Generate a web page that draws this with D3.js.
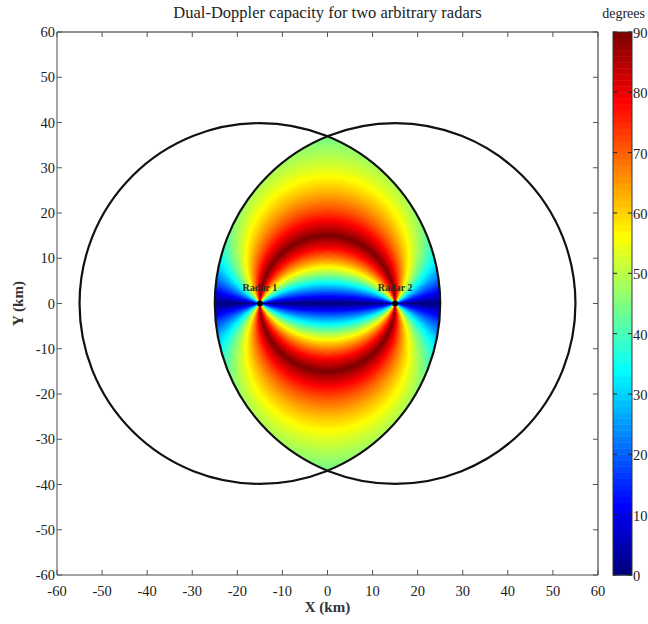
<!DOCTYPE html>
<html>
<head>
<meta charset="utf-8">
<script src="https://cdn.jsdelivr.net/npm/d3@7"></script>
<style>
  html, body { margin: 0; padding: 0; background: #fff; }
  svg text { font-family: "Liberation Serif", "DejaVu Serif", serif; fill: #222; }
</style>
</head>
<body>
<svg id="chart" width="648" height="624"></svg>
<script>
// Radar sites (km) and their maximum useful range (km)
const radarNames = ["Radar 1", "Radar 2"];
const radarX = [-15, 15];
const radarY = [0, 0];
const radarRange = [40, 40];

// Axis ticks
const xTicks = [-60, -50, -40, -30, -20, -10, 0, 10, 20, 30, 40, 50, 60];
const yTicks = [-60, -50, -40, -30, -20, -10, 0, 10, 20, 30, 40, 50, 60];
const colorTicks = [0, 10, 20, 30, 40, 50, 60, 70, 80, 90];
const colorDomain = [0, 90];
const colorLevels = 90;

const plot = { left: 57, right: 598, top: 32, bottom: 575 };
const cbar = { left: 613, right: 632, top: 32, bottom: 575 };

const svg = d3.select("#chart");

const x = d3.scaleLinear().domain([-60, 60]).range([plot.left, plot.right]);
const y = d3.scaleLinear().domain([-60, 60]).range([plot.bottom, plot.top]);

// MATLAB-style jet colormap
function jet(t) {
  const c = v => Math.max(0, Math.min(1, v));
  const r = c(1.5 - Math.abs(4 * t - 3));
  const g = c(1.5 - Math.abs(4 * t - 2));
  const b = c(1.5 - Math.abs(4 * t - 1));
  return [Math.round(r * 255), Math.round(g * 255), Math.round(b * 255)];
}
const levelColors = d3.range(colorLevels).map(i => jet(i / (colorLevels - 1)));
const color = d3.scaleQuantize().domain(colorDomain).range(levelColors);

// Beam-crossing angle between the two radars, folded into 0..90 degrees
function crossAngle(px, py) {
  const ax = radarX[0] - px, ay = radarY[0] - py;
  const bx = radarX[1] - px, by = radarY[1] - py;
  const la = Math.hypot(ax, ay), lb = Math.hypot(bx, by);
  if (la === 0 || lb === 0) return 0;
  let cos = (ax * bx + ay * by) / (la * lb);
  cos = Math.max(-1, Math.min(1, cos));
  let deg = Math.acos(cos) * 180 / Math.PI;
  if (deg > 90) deg = 180 - deg;
  return deg;
}

// Rasterise the dual-Doppler field over the overlap of both radar ranges
const pw = plot.right - plot.left, ph = plot.bottom - plot.top;
const canvas = document.createElement("canvas");
canvas.width = pw; canvas.height = ph;
const ctx = canvas.getContext("2d");
const img = ctx.createImageData(pw, ph);
for (let j = 0; j < ph; j++) {
  const dy = y.invert(plot.top + j + 0.5);
  for (let i = 0; i < pw; i++) {
    const dx = x.invert(plot.left + i + 0.5);
    let inside = true;
    for (let k = 0; k < radarX.length; k++) {
      if (Math.hypot(dx - radarX[k], dy - radarY[k]) > radarRange[k]) { inside = false; break; }
    }
    if (!inside) continue;
    const c = color(crossAngle(dx, dy));
    const o = (j * pw + i) * 4;
    img.data[o] = c[0]; img.data[o + 1] = c[1]; img.data[o + 2] = c[2]; img.data[o + 3] = 255;
  }
}
ctx.putImageData(img, 0, 0);

svg.append("image")
  .attr("x", plot.left).attr("y", plot.top)
  .attr("width", pw).attr("height", ph)
  .attr("href", canvas.toDataURL());

// Radar range rings
svg.append("g").selectAll("circle")
  .data(radarX.map((rx, i) => ({ x: rx, y: radarY[i], r: radarRange[i] })))
  .join("circle")
  .attr("cx", d => x(d.x)).attr("cy", d => y(d.y))
  .attr("r", d => x(d.r) - x(0))
  .attr("fill", "none").attr("stroke", "#111").attr("stroke-width", 2.2);

// Radar sites and labels
const sites = radarX.map((rx, i) => ({ x: rx, y: radarY[i], name: radarNames[i] }));
svg.append("g").selectAll("circle")
  .data(sites).join("circle")
  .attr("cx", d => x(d.x)).attr("cy", d => y(d.y))
  .attr("r", 3).attr("fill", "#000");
svg.append("g").selectAll("text")
  .data(sites).join("text")
  .attr("x", d => x(d.x)).attr("y", d => y(d.y) - 13)
  .attr("text-anchor", "middle")
  .attr("font-size", 10).attr("font-weight", "bold")
  .style("fill", "#2a2a2a")
  .text(d => d.name);

// Axes box: left/bottom grey, top/right dark, ticks pointing inward
const axisG = svg.append("g");
const tickLen = 5;
axisG.append("line").attr("x1", plot.left).attr("x2", plot.left).attr("y1", plot.top).attr("y2", plot.bottom)
  .attr("stroke", "#888").attr("stroke-width", 1.5);
axisG.append("line").attr("x1", plot.left).attr("x2", plot.right).attr("y1", plot.bottom).attr("y2", plot.bottom)
  .attr("stroke", "#888").attr("stroke-width", 1.5);
axisG.append("line").attr("x1", plot.left).attr("x2", plot.right).attr("y1", plot.top).attr("y2", plot.top)
  .attr("stroke", "#222").attr("stroke-width", 1);
axisG.append("line").attr("x1", plot.right).attr("x2", plot.right).attr("y1", plot.top).attr("y2", plot.bottom)
  .attr("stroke", "#222").attr("stroke-width", 1);

axisG.append("g").selectAll("line").data(xTicks).join("line")
  .attr("x1", d => x(d)).attr("x2", d => x(d))
  .attr("y1", plot.bottom).attr("y2", plot.bottom - tickLen)
  .attr("stroke", "#555");
axisG.append("g").selectAll("line").data(xTicks).join("line")
  .attr("x1", d => x(d)).attr("x2", d => x(d))
  .attr("y1", plot.top).attr("y2", plot.top + tickLen)
  .attr("stroke", "#555");
axisG.append("g").selectAll("line").data(yTicks).join("line")
  .attr("y1", d => y(d)).attr("y2", d => y(d))
  .attr("x1", plot.left).attr("x2", plot.left + tickLen)
  .attr("stroke", "#555");
axisG.append("g").selectAll("line").data(yTicks).join("line")
  .attr("y1", d => y(d)).attr("y2", d => y(d))
  .attr("x1", plot.right).attr("x2", plot.right - tickLen)
  .attr("stroke", "#555");

axisG.append("g").selectAll("text").data(xTicks).join("text")
  .attr("x", d => x(d)).attr("y", plot.bottom + 21)
  .attr("text-anchor", "middle").attr("font-size", 14.5)
  .text(d => d);
axisG.append("g").selectAll("text").data(yTicks).join("text")
  .attr("x", plot.left - 2).attr("y", d => y(d) + 5)
  .attr("text-anchor", "end").attr("font-size", 14.5)
  .text(d => d);

// Titles
svg.append("text").attr("x", (plot.left + plot.right) / 2).attr("y", 18)
  .attr("text-anchor", "middle").attr("font-size", 16.5)
  .text("Dual-Doppler capacity for two arbitrary radars");
svg.append("text").attr("x", (plot.left + plot.right) / 2).attr("y", 612)
  .attr("text-anchor", "middle").attr("font-size", 15).attr("font-weight", "bold")
  .style("fill", "#333")
  .text("X (km)");
svg.append("text").attr("transform", `translate(23, ${(plot.top + plot.bottom) / 2}) rotate(-90)`)
  .attr("text-anchor", "middle").attr("font-size", 15).attr("font-weight", "bold")
  .style("fill", "#333")
  .text("Y (km)");

// Colour bar
const cy = d3.scaleLinear().domain(colorDomain).range([cbar.bottom, cbar.top]);
const step = (colorDomain[1] - colorDomain[0]) / colorLevels;
svg.append("g").selectAll("rect")
  .data(d3.range(colorLevels)).join("rect")
  .attr("x", cbar.left).attr("width", cbar.right - cbar.left)
  .attr("y", i => cy(colorDomain[0] + (i + 1) * step))
  .attr("height", i => cy(colorDomain[0] + i * step) - cy(colorDomain[0] + (i + 1) * step) + 0.5)
  .attr("fill", i => `rgb(${levelColors[i].join(",")})`);
svg.append("rect").attr("x", cbar.left).attr("y", cbar.top)
  .attr("width", cbar.right - cbar.left).attr("height", cbar.bottom - cbar.top)
  .attr("fill", "none").attr("stroke", "#333").attr("stroke-width", 1);
const cbTicks = svg.append("g");
cbTicks.selectAll("line.l").data(colorTicks).join("line").attr("class", "l")
  .attr("x1", cbar.left).attr("x2", cbar.left + 4)
  .attr("y1", d => cy(d)).attr("y2", d => cy(d)).attr("stroke", "#222");
cbTicks.selectAll("line.r").data(colorTicks).join("line").attr("class", "r")
  .attr("x1", cbar.right - 4).attr("x2", cbar.right)
  .attr("y1", d => cy(d)).attr("y2", d => cy(d)).attr("stroke", "#222");
cbTicks.selectAll("text").data(colorTicks).join("text")
  .attr("x", cbar.right + 1).attr("y", d => cy(d) + 6)
  .attr("font-size", 14.5)
  .text(d => d);
svg.append("text").attr("x", 645).attr("y", 18)
  .attr("text-anchor", "end").attr("font-size", 14)
  .text("degrees");
</script>
</body>
</html>
